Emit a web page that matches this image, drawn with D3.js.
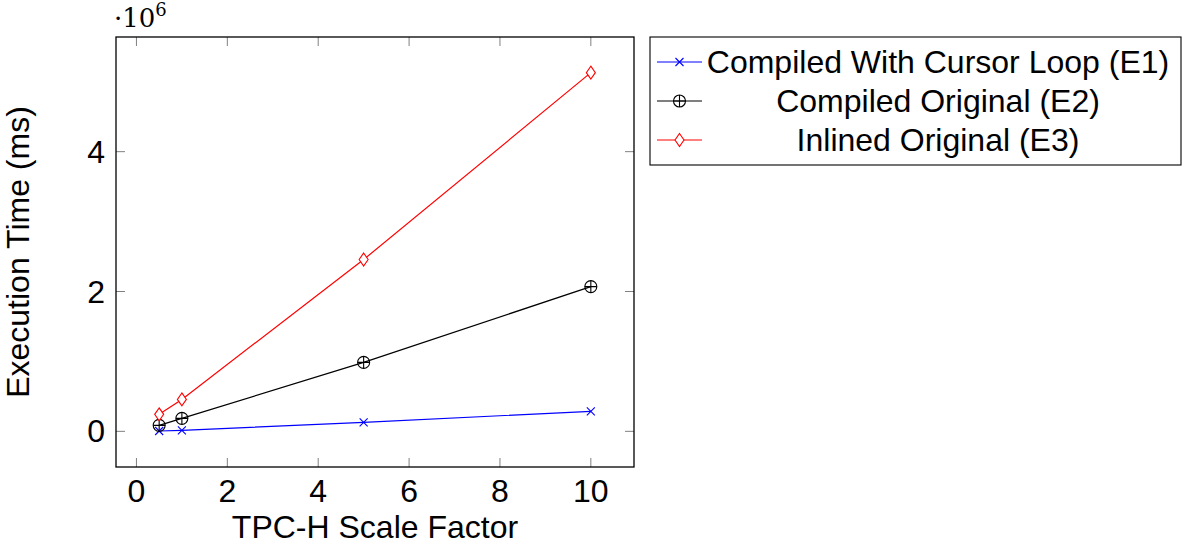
<!DOCTYPE html>
<html><head><meta charset="utf-8">
<script src="https://cdn.jsdelivr.net/npm/d3@7"></script>
<style>body{margin:0;background:#fff}</style>
</head><body><svg id="c" width="1183" height="546"></svg>
<script>
const xValues = [0.5, 1, 5, 10];
const seriesNames = ["Compiled With Cursor Loop (E1)", "Compiled Original (E2)", "Inlined Original (E3)"];
const e1 = [0.005e6, 0.015e6, 0.129e6, 0.286e6];
const e2 = [0.086e6, 0.186e6, 0.986e6, 2.07e6];
const e3 = [0.243e6, 0.457e6, 2.457e6, 5.13e6];
const xTicks = [0, 2, 4, 6, 8, 10];
const yTicks = [0, 2e6, 4e6];
const colors = ["#0000ff", "#000000", "#ff0000"];
const markers = ["x", "oplus", "diamond"];

const svg = d3.select("#c");
const L = 116, R = 634, T = 37, B = 467;
const font = "'Liberation Sans', Arial, Helvetica, sans-serif";
const fs = 32;
const x = d3.scaleLinear().domain([-0.45, 10.95]).range([L, R]);
const y = d3.scaleLinear().domain([-0.51e6, 5.64e6]).range([B, T]);

// ticks
const tickLen = 9;
const g = svg.append("g");
xTicks.forEach(t => {
  g.append("line").attr("x1", x(t)).attr("x2", x(t)).attr("y1", B).attr("y2", B - tickLen).attr("stroke", "#808080").attr("stroke-width", 1);
  g.append("line").attr("x1", x(t)).attr("x2", x(t)).attr("y1", T).attr("y2", T + tickLen).attr("stroke", "#808080").attr("stroke-width", 1);
  g.append("text").attr("x", x(t)).attr("y", 502).attr("text-anchor", "middle").attr("font-family", font).attr("font-size", fs).text(t);
});
yTicks.forEach(t => {
  g.append("line").attr("x1", L).attr("x2", L + tickLen).attr("y1", y(t)).attr("y2", y(t)).attr("stroke", "#808080").attr("stroke-width", 1);
  g.append("line").attr("x1", R).attr("x2", R - tickLen).attr("y1", y(t)).attr("y2", y(t)).attr("stroke", "#808080").attr("stroke-width", 1);
  g.append("text").attr("x", 105).attr("y", y(t) + 11).attr("text-anchor", "end").attr("font-family", font).attr("font-size", fs).text(t / 1e6);
});

// frame
svg.append("rect").attr("x", L).attr("y", T).attr("width", R - L).attr("height", B - T).attr("fill", "none").attr("stroke", "#000").attr("stroke-width", 1.3);

// multiplier
const mt = svg.append("text").attr("x", 114).attr("y", 27).attr("font-family", "'DejaVu Serif', 'Liberation Serif', serif").attr("font-size", 26);
mt.append("tspan").text("·10");
mt.append("tspan").attr("dy", -11).attr("font-size", 18).text("6");

// axis labels
svg.append("text").attr("x", (L + R) / 2).attr("y", 538).attr("text-anchor", "middle").attr("font-family", font).attr("font-size", fs).text("TPC-H Scale Factor");
svg.append("text").attr("transform", `translate(29,${(T + B) / 2}) rotate(-90)`).attr("text-anchor", "middle").attr("font-family", font).attr("font-size", fs).text("Execution Time (ms)");

function drawMarker(sel, type, cx, cy, color) {
  if (type === "x") {
    const s = 4;
    sel.append("path").attr("d", `M${cx - s},${cy - s}L${cx + s},${cy + s}M${cx - s},${cy + s}L${cx + s},${cy - s}`).attr("stroke", color).attr("stroke-width", 1.1).attr("fill", "none");
  } else if (type === "oplus") {
    const r = 6;
    sel.append("circle").attr("cx", cx).attr("cy", cy).attr("r", r).attr("fill", "none").attr("stroke", color).attr("stroke-width", 1.1);
    sel.append("path").attr("d", `M${cx - r},${cy}L${cx + r},${cy}M${cx},${cy - r}L${cx},${cy + r}`).attr("stroke", color).attr("stroke-width", 1.1);
  } else {
    const w = 4.5, h = 6.5;
    sel.append("path").attr("d", `M${cx},${cy - h}L${cx + w},${cy}L${cx},${cy + h}L${cx - w},${cy}Z`).attr("fill", "#fff").attr("stroke", color).attr("stroke-width", 1.1);
  }
}

const data = [e1, e2, e3];
const line = d3.line().x((d, i) => x(xValues[i])).y(d => y(d));
const plot = svg.append("g");
[0, 1, 2].forEach(k => {
  plot.append("path").attr("d", line(data[k])).attr("fill", "none").attr("stroke", colors[k]).attr("stroke-width", 1.2);
});
[0, 1, 2].forEach(k => {
  data[k].forEach((v, i) => drawMarker(plot, markers[k], x(xValues[i]), y(v), colors[k]));
});

// legend
const lx = 650, ly = 37, lw = 531, lh = 128;
svg.append("rect").attr("x", lx).attr("y", ly).attr("width", lw).attr("height", lh).attr("fill", "#fff").attr("stroke", "#000").attr("stroke-width", 1.1);
const rowY = [62, 101, 140];
seriesNames.forEach((name, k) => {
  svg.append("line").attr("x1", 657).attr("x2", 702).attr("y1", rowY[k]).attr("y2", rowY[k]).attr("stroke", colors[k]).attr("stroke-width", 1.2);
  drawMarker(svg, markers[k], 679.5, rowY[k], colors[k]);
  svg.append("text").attr("x", 938).attr("y", rowY[k] + 11).attr("text-anchor", "middle").attr("font-family", font).attr("font-size", fs).text(name);
});
</script></body></html>
